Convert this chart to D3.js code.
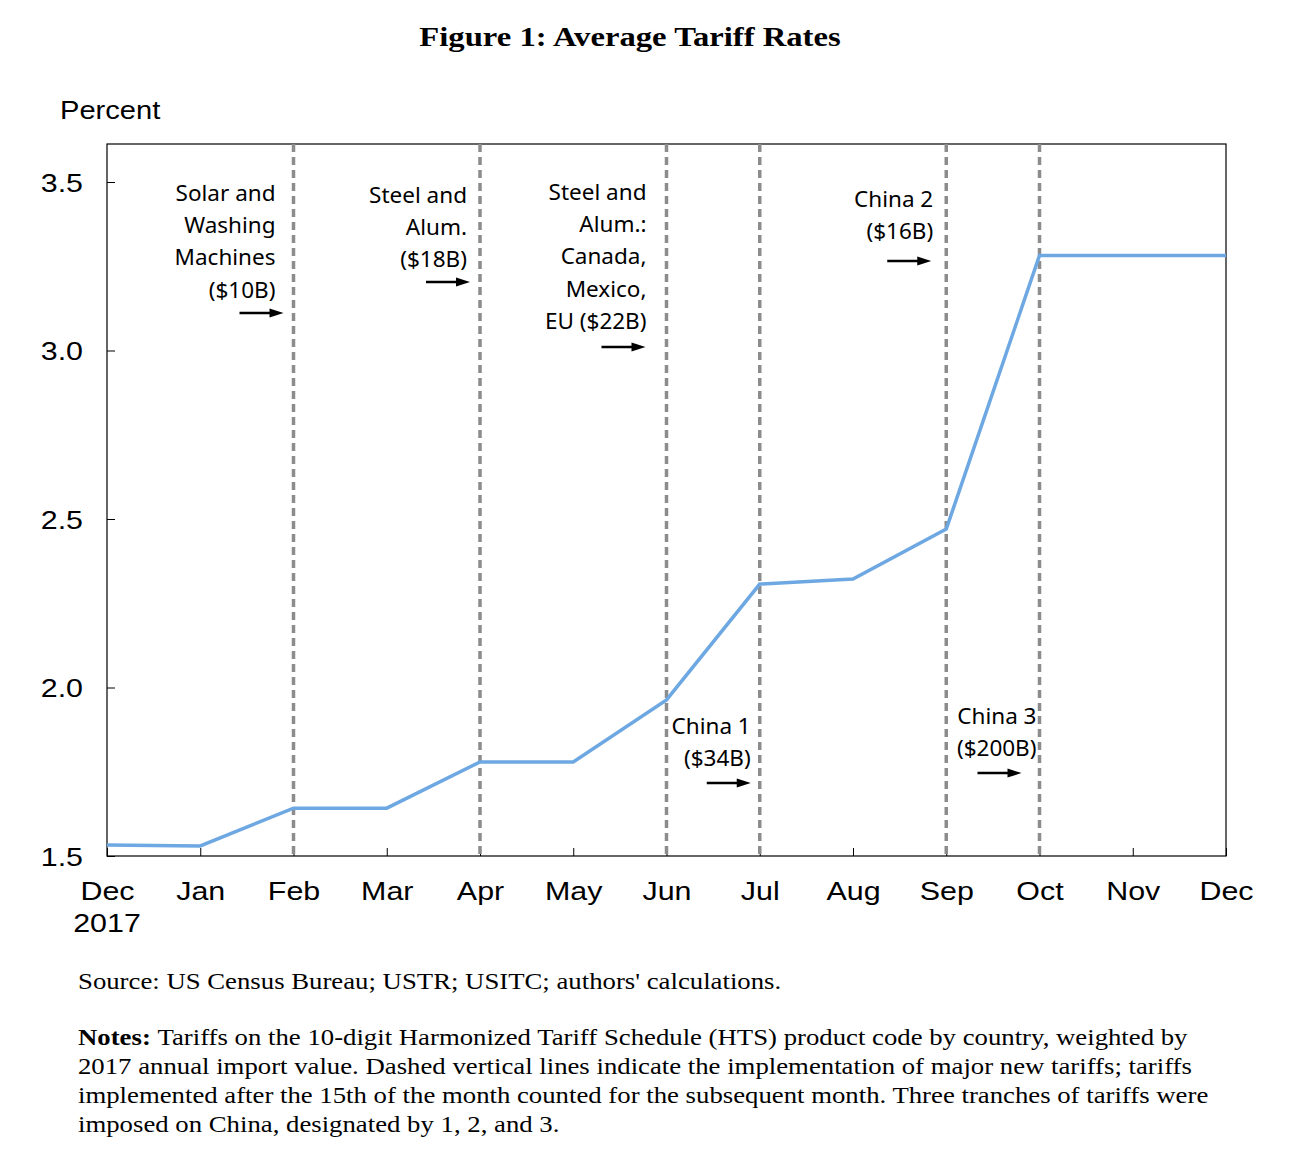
<!DOCTYPE html>
<html><head><meta charset="utf-8">
<script src="https://cdn.jsdelivr.net/npm/d3@7"></script>
<style>body{margin:0;background:#fff}</style>
</head><body>
<svg id="c" width="1290" height="1166"></svg>
<script>
const months = ["Dec","Jan","Feb","Mar","Apr","May","Jun","Jul","Aug","Sep","Oct","Nov","Dec"];
const tariff = [1.533,1.530,1.642,1.642,1.779,1.779,1.963,2.307,2.322,2.470,3.282,3.282,3.282];
const yTicks = [1.5,2.0,2.5,3.0,3.5];
const eventIdx = [2,4,6,7,9,10];
const annotations = [
  {idx:2, lines:["Solar and","Washing","Machines","($10B)"], top:193, arrowY:313, tdx:-18, adx:-10},
  {idx:4, lines:["Steel and","Alum.","($18B)"], top:195, arrowY:282, tdx:-13, adx:-10},
  {idx:6, lines:["Steel and","Alum.:","Canada,","Mexico,","EU ($22B)"], top:192, arrowY:347, tdx:-20, adx:-21},
  {idx:7, lines:["China 1","($34B)"], top:726, arrowY:783, tdx:-9, adx:-9},
  {idx:9, lines:["China 2","($16B)"], top:199, arrowY:261, tdx:-13, adx:-15},
  {idx:10, lines:["China 3","($200B)"], top:716, arrowY:773, tdx:-3, adx:-18}
];
const svg = d3.select("#c");
const L=107,R=1226,T=144,B=856;
const x = d3.scalePoint().domain(d3.range(months.length)).range([L,R]);
const y = d3.scaleLinear().domain([1.5,3.5]).range([B,182]);
const SX = 1.17;

function stext(xp, yp, sx, txt, font, size, anchor, weight){
  return svg.append("text").attr("transform",`translate(${xp},${yp}) scale(${sx},1)`)
    .attr("text-anchor",anchor||"start").style("font-family",font).style("font-size",size+"px")
    .style("font-weight",weight||"normal").text(txt);
}

stext(630,46,1.167,"Figure 1: Average Tariff Rates","Liberation Serif",28,"middle","bold");
stext(60,119,1.12,"Percent","Liberation Sans",26);

// frame
svg.append("rect").attr("x",L).attr("y",T).attr("width",R-L).attr("height",B-T)
  .attr("fill","none").attr("stroke","#000").attr("stroke-width",1.2);

// y axis
const ya = svg.append("g").attr("transform",`translate(${L},0)`)
  .call(d3.axisRight(y).tickValues(yTicks).tickSize(8).tickFormat(d3.format(".1f")));
ya.select(".domain").remove();
ya.selectAll("line").attr("stroke","#000");
ya.selectAll("text").attr("x",-24/SX).attr("text-anchor","end").attr("dy","0.35em")
  .attr("transform",`scale(${SX},1)`)
  .style("font-family","Liberation Sans").style("font-size","26px").attr("fill","#000");

// x axis
const xa = svg.append("g").attr("transform",`translate(0,${B})`)
  .call(d3.axisTop(x).tickSize(8).tickFormat(i=>months[i]));
xa.select(".domain").remove();
xa.selectAll("line").attr("stroke","#000");
xa.selectAll("text").attr("y",44).attr("dy",0).attr("transform",`scale(${SX},1)`)
  .style("font-family","Liberation Sans").style("font-size","26px").attr("fill","#000");
stext(x(0),932,SX,"2017","Liberation Sans",26,"middle");

// dashed lines
svg.selectAll(".ev").data(eventIdx).enter().append("line")
  .attr("x1",d=>x(d)).attr("x2",d=>x(d)).attr("y1",T).attr("y2",B)
  .attr("stroke","#8c8c8c").attr("stroke-width",3.5).attr("stroke-dasharray","8,5");

// data line
svg.append("path").datum(tariff)
  .attr("d",d3.line().x((d,i)=>x(i)).y(d=>y(d)))
  .attr("fill","none").attr("stroke","#6ea8e2").attr("stroke-width",3.5);

// annotations
annotations.forEach(a=>{
  const xr = x(a.idx)+a.tdx;
  a.lines.forEach((t,j)=>{
    svg.append("text").attr("x",xr).attr("y",a.top+j*32.3).attr("dy","0.35em")
      .attr("text-anchor","end").style("font-family","Noto Sans").style("font-size","22.5px")
      .text(t);
  });
  const xe = x(a.idx)+a.adx;
  svg.append("line").attr("x1",xe-44).attr("x2",xe-10).attr("y1",a.arrowY).attr("y2",a.arrowY)
    .attr("stroke","#000").attr("stroke-width",2.5);
  svg.append("path").attr("d",`M${xe-14},${a.arrowY-4.5}L${xe},${a.arrowY}L${xe-14},${a.arrowY+4.5}Z`).attr("fill","#000");
});

// source & notes
const ff = "Liberation Serif", NS = 1.115;
stext(78,989,NS,"Source: US Census Bureau; USTR; USITC; authors' calculations.",ff,24);
const notes = [
  "Tariffs on the 10-digit Harmonized Tariff Schedule (HTS) product code by country, weighted by",
  "2017 annual import value. Dashed vertical lines indicate the implementation of major new tariffs; tariffs",
  "implemented after the 15th of the month counted for the subsequent month. Three tranches of tariffs were",
  "imposed on China, designated by 1, 2, and 3."
];
notes.forEach((t,i)=>{
  const tx = stext(78,1045+i*29,NS,"",ff,24);
  if(i===0){ tx.append("tspan").style("font-weight","bold").text("Notes: "); }
  tx.append("tspan").text(t);
});
</script>
</body></html>
